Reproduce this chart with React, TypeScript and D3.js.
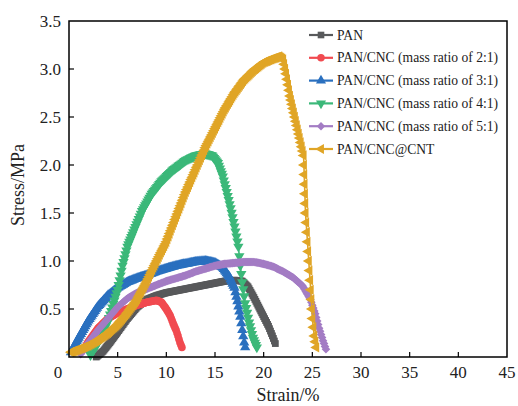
import React from "react";
import * as d3 from "d3";

const xTicks = [0, 5, 10, 15, 20, 25, 30, 35, 40, 45];
const yTicks = [0.5, 1.0, 1.5, 2.0, 2.5, 3.0, 3.5];

const seriesNames = [
  "PAN",
  "PAN/CNC (mass ratio of 2:1)",
  "PAN/CNC (mass ratio of 3:1)",
  "PAN/CNC (mass ratio of 4:1)",
  "PAN/CNC (mass ratio of 5:1)",
  "PAN/CNC@CNT",
];
const seriesColors = ["#58595b", "#f14a50", "#2a70bf", "#3bb879", "#a37cc4", "#e0a526"];
const seriesMarkers = ["square", "circle", "triangleUp", "triangleDown", "diamond", "triangleLeft"];

const panData: [number, number][] = [
  [2.8, 0.0], [3.5, 0.06], [4.2, 0.15], [5, 0.26], [6, 0.4], [7, 0.52], [8, 0.6], [9, 0.64],
  [10, 0.67], [11, 0.69], [12, 0.71], [13, 0.73], [14, 0.75], [15, 0.77], [16, 0.79], [17, 0.8],
  [17.8, 0.79], [18.4, 0.73], [19, 0.62], [19.5, 0.52], [20, 0.42], [20.5, 0.32], [20.9, 0.22], [21.2, 0.14],
];
const cnc21Data: [number, number][] = [
  [1.5, 0.08], [2, 0.16], [3, 0.3], [4, 0.4], [5, 0.46], [6, 0.5], [7, 0.54], [8, 0.57],
  [9, 0.59], [9.5, 0.57], [10, 0.5], [10.4, 0.43], [10.7, 0.35], [11.0, 0.28], [11.2, 0.22], [11.4, 0.15], [11.6, 0.1],
];
const cnc31Data: [number, number][] = [
  [0.2, 0.05], [1, 0.2], [2, 0.38], [3, 0.53], [4, 0.64], [5, 0.72], [6, 0.78], [7, 0.82],
  [8, 0.85], [9, 0.89], [10, 0.92], [11, 0.95], [12, 0.97], [13, 0.99], [14, 1.0], [15, 0.98],
  [15.8, 0.93], [16.5, 0.83], [17, 0.72], [17.3, 0.58], [17.6, 0.42], [17.8, 0.28], [18, 0.15], [18.1, 0.1],
];
const cnc41Data: [number, number][] = [
  [2.2, 0.02], [3, 0.15], [4, 0.37], [5, 0.7], [5.5, 0.95], [6, 1.15], [6.6, 1.3], [7.5, 1.52],
  [8.5, 1.7], [9.5, 1.83], [10.7, 1.95], [12, 2.05], [13, 2.1], [14, 2.12], [14.7, 2.1], [15.3, 2.02],
  [15.8, 1.88], [16.2, 1.72], [16.6, 1.55], [17, 1.36], [17.4, 1.15], [17.6, 0.95], [17.8, 0.78],
  [18.1, 0.56], [18.5, 0.36], [18.9, 0.2], [19.3, 0.1],
];
const cnc51Data: [number, number][] = [
  [1.2, 0.03], [2, 0.15], [3, 0.28], [4, 0.4], [5, 0.52], [6, 0.61], [7, 0.67], [8, 0.71],
  [9, 0.75], [10, 0.79], [11, 0.82], [12, 0.85], [13, 0.89], [14, 0.92], [15, 0.95], [16, 0.97],
  [17, 0.98], [18, 0.99], [19, 0.99], [20, 0.97], [21, 0.94], [22, 0.89], [23, 0.83], [24, 0.74],
  [24.8, 0.6], [25.3, 0.45], [25.7, 0.3], [26.1, 0.17], [26.4, 0.08],
];
const cntData: [number, number][] = [
  [0.2, 0.05], [1, 0.08], [2, 0.12], [3, 0.18], [4, 0.25], [5, 0.34], [6, 0.46], [7, 0.6],
  [8, 0.79], [9, 1.0], [10, 1.2], [11, 1.46], [12, 1.72], [13, 1.95], [14, 2.18], [15, 2.38],
  [16, 2.58], [17, 2.75], [18, 2.89], [19, 2.99], [20, 3.07], [21, 3.11], [21.6, 3.13], [22.0, 3.1],
  [22.3, 2.95], [22.7, 2.72], [23.2, 2.5], [23.7, 2.28], [24.1, 2.1], [24.2, 1.8], [24.3, 1.5],
  [24.5, 1.2], [24.7, 0.9], [24.9, 0.6], [25.0, 0.4], [25.2, 0.22], [25.4, 0.1],
];
const seriesData = [panData, cnc21Data, cnc31Data, cnc41Data, cnc51Data, cntData];

const W = 518, H = 406;
const x = d3.scaleLinear().domain([0, 45]).range([69, 507]);
const y = d3.scaleLinear().domain([0, 3.5]).range([357, 21]);

function symbolPath(kind: string, size: number) {
  if (kind === "square") return d3.symbol(d3.symbolSquare, size)()!;
  if (kind === "circle") return d3.symbol(d3.symbolCircle, size)()!;
  if (kind === "diamond") return d3.symbol(d3.symbolSquare, size * 0.8)()!;
  return d3.symbol(d3.symbolTriangle, size)()!;
}
function symbolRotate(kind: string) {
  if (kind === "triangleDown") return 180;
  if (kind === "triangleLeft") return -90;
  if (kind === "diamond") return 45;
  return 0;
}

// Marker placement along the drawn line, one marker per ~1px of horizontal travel
function markerPositions(data: [number, number][], stepX: number) {
  const out: [number, number][] = [];
  const px = data.map((d) => [x(d[0]), y(d[1])] as [number, number]);
  out.push(px[0]);
  for (let i = 1; i < px.length; i++) {
    const [x0, y0] = px[i - 1];
    const [x1, y1] = px[i];
    const len = Math.hypot(x1 - x0, y1 - y0);
    const n = Math.max(1, Math.ceil(Math.abs(x1 - x0) / stepX), Math.ceil(len / 13));
    for (let k = 1; k <= n; k++) {
      const t = k / n;
      out.push([x0 + (x1 - x0) * t, y0 + (y1 - y0) * t]);
    }
  }
  return out;
}

const serif = "'Liberation Serif', 'Times New Roman', serif";

export default function App() {
  const line = d3.line<[number, number]>().x((d) => x(d[0])).y((d) => y(d[1]));
  return (
    <svg width={W} height={H} style={{ position: "absolute", left: 0, top: 0, background: "#fff" }}
      fontFamily={serif}>
      <rect x={0} y={0} width={W} height={H} fill="#fff" />
      {seriesData.map((data, si) => {
        const col = seriesColors[si];
        const kind = seriesMarkers[si];
        const path = symbolPath(kind, 46);
        const rot = symbolRotate(kind);
        const pts = markerPositions(data, 1.1);
        return (
          <g key={si}>
            <path d={line(data)!} fill="none" stroke={col} strokeWidth={1.6} />
            {pts.map((p, i) => (
              <path key={i} d={path} fill={col}
                transform={`translate(${p[0]},${p[1]}) rotate(${rot})`} />
            ))}
          </g>
        );
      })}
      {/* frame */}
      <rect x={69} y={21} width={438} height={336} fill="none" stroke="#000" strokeWidth={1.5} />
      {xTicks.map((t) => (
        <g key={"x" + t}>
          {t > 0 && t < 45 && <line x1={x(t)} x2={x(t)} y1={357} y2={352} stroke="#000" strokeWidth={1.2} />}
          <text x={x(t) + (t === 0 ? -11 : 0)} y={378} fontSize={17} textAnchor="middle" fill="#222">{t}</text>
        </g>
      ))}
      {yTicks.map((t) => (
        <g key={"y" + t}>
          {t < 3.5 && <line x1={69} x2={74} y1={y(t)} y2={y(t)} stroke="#000" strokeWidth={1.2} />}
          <text x={61} y={y(t) + 6} fontSize={17} textAnchor="end" fill="#222">{t.toFixed(1)}</text>
        </g>
      ))}
      <text x={288} y={401} fontSize={18} textAnchor="middle" fill="#222">Strain/%</text>
      <text transform="translate(24,185) rotate(-90)" fontSize={18} textAnchor="middle" fill="#222">Stress/MPa</text>
      {/* legend */}
      {seriesNames.map((name, si) => {
        const yy = 35 + si * 22.8;
        const col = seriesColors[si];
        const kind = seriesMarkers[si];
        return (
          <g key={"l" + si}>
            <line x1={309} x2={333} y1={yy} y2={yy} stroke={col} strokeWidth={2.2} />
            <path d={symbolPath(kind, 44)} fill={col}
              transform={`translate(321,${yy}) rotate(${symbolRotate(kind)})`} />
            <text x={337} y={yy + 4.6} fontSize={13.6} fill="#222">{name}</text>
          </g>
        );
      })}
    </svg>
  );
}
